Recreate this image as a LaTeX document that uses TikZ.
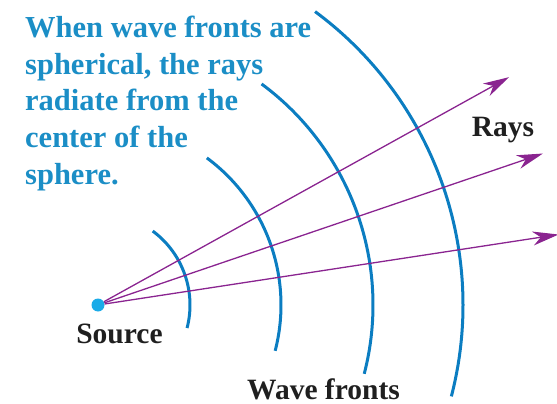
\documentclass[tikz,border=0pt]{standalone}
\usepackage{fontspec}
\setmainfont{Liberation Serif}
\usetikzlibrary{arrows.meta}
\definecolor{frontblue}{RGB}{11,125,193}
\definecolor{textblue}{RGB}{27,142,198}
\definecolor{dotblue}{RGB}{26,171,232}
\definecolor{raypurple}{RGB}{138,36,144}
\tikzset{
  front/.style={frontblue, line width=3pt},
  ray/.style={raypurple, line width=1.3pt, -{Stealth[length=26pt,width=14pt,inset=8pt]}},
  lbl/.style={font=\fontsize{29.5}{34}\selectfont\bfseries, text=black!88, inner sep=0pt, anchor=base},
  blurb/.style={font=\fontsize{30.5}{36.6}\selectfont\bfseries, text=textblue, inner sep=0pt, align=left, anchor=north west}
}
\begin{document}
\begin{tikzpicture}[x=1pt, y=1pt]
  \useasboundingbox (0,0) rectangle (557,-404);
  % source
  \node[circle, fill=dotblue, inner sep=0pt, minimum size=13pt] (src) at (98,-305) {};
  % wave fronts
  \foreach \r in {92,183,275,365}
    \draw[front] (src.center) ++(53.5:\r) arc[start angle=53.5, end angle=-14.5, radius=\r];
  % rays
  \foreach \a/\len/\n in {29/470/a, 18.8/470/b, 8.7/466/c} {
    \path (src.center) ++(\a:\len) coordinate (tip\n);
    \draw[ray] (src) -- (tip\n);
  }
  % labels
  \node[blurb] (blurb) at (25,-16) {When wave fronts are\\spherical, the rays\\radiate from the\\center of the\\sphere.};
  \node[lbl] (srclbl) at (119.5,-343) {Source};
  \node[lbl] (rayslbl) at (503,-136) {Rays};
  \node[lbl] (frontlbl) at (323.5,-399) {Wave fronts};
\end{tikzpicture}
\end{document}
